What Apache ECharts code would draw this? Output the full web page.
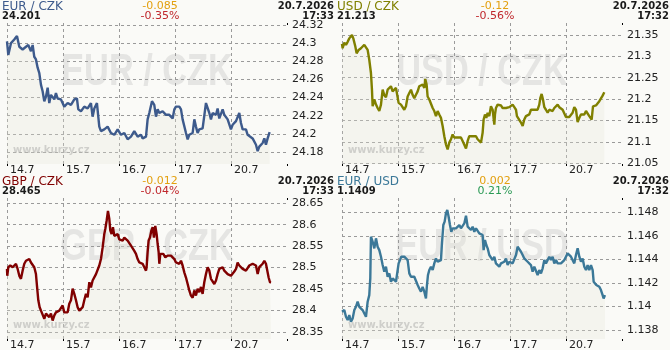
<!DOCTYPE html>
<html>
<head>
<meta charset="utf-8">
<script src="https://cdn.jsdelivr.net/npm/echarts@6/dist/echarts.min.js"></script>
<style>
  html, body { margin: 0; padding: 0; background: #fafaf7; }
  #chart { width: 670px; height: 350px; }
</style>
</head>
<body>
<div id="chart"></div>
<script>
// x = trading day since 14.7 (0 = 14.7, 4 = 20.7), y = rate
const dayLabels = ['14.7', '15.7', '16.7', '17.7', '20.7'];

const pairNames = ['EUR / CZK', 'USD / CZK', 'GBP / CZK', 'EUR / USD'];
const lastValues = ['24.201', '21.213', '28.465', '1.1409'];
const changes = ['-0.085', '-0.12', '-0.012', '0.002'];
const changePct = ['-0.35%', '-0.56%', '-0.04%', '0.21%'];
const dates = ['20.7.2026', '20.7.2026', '20.7.2026', '20.7.2026'];
const times = ['17:33', '17:32', '17:33', '17:32'];

const eurCzk = [
  [0.000, 24.302], [0.023, 24.287], [0.071, 24.300], [0.130, 24.304], [0.178, 24.308],
  [0.220, 24.296], [0.279, 24.293], [0.339, 24.296], [0.380, 24.298], [0.428, 24.291],
  [0.458, 24.298], [0.487, 24.285], [0.517, 24.282], [0.547, 24.273], [0.577, 24.267],
  [0.607, 24.254], [0.636, 24.247], [0.666, 24.236], [0.696, 24.241], [0.726, 24.251],
  [0.755, 24.234], [0.785, 24.243], [0.845, 24.238], [0.874, 24.245], [0.904, 24.239],
  [0.964, 24.238], [1.023, 24.230], [1.083, 24.234], [1.142, 24.232], [1.202, 24.238],
  [1.249, 24.239], [1.273, 24.227], [1.321, 24.225], [1.380, 24.230], [1.440, 24.228],
  [1.499, 24.234], [1.529, 24.219], [1.559, 24.228], [1.606, 24.234], [1.648, 24.208],
  [1.678, 24.203], [1.737, 24.205], [1.797, 24.208], [1.856, 24.201], [1.916, 24.199],
  [1.976, 24.205], [2.035, 24.199], [2.095, 24.201], [2.154, 24.194], [2.214, 24.197],
  [2.273, 24.203], [2.333, 24.197], [2.393, 24.199], [2.422, 24.195], [2.482, 24.197],
  [2.511, 24.216], [2.541, 24.223], [2.589, 24.236], [2.630, 24.232], [2.660, 24.219],
  [2.690, 24.227], [2.720, 24.223], [2.779, 24.225], [2.839, 24.221], [2.898, 24.221],
  [2.958, 24.217], [2.988, 24.227], [3.017, 24.230], [3.077, 24.230], [3.107, 24.227],
  [3.136, 24.216], [3.166, 24.216], [3.196, 24.201], [3.226, 24.194], [3.255, 24.199],
  [3.315, 24.201], [3.345, 24.216], [3.374, 24.208], [3.404, 24.201], [3.434, 24.205],
  [3.493, 24.206], [3.523, 24.208], [3.553, 24.234], [3.583, 24.236], [3.613, 24.223],
  [3.642, 24.216], [3.672, 24.223], [3.732, 24.221], [3.761, 24.228], [3.791, 24.217],
  [3.851, 24.227], [3.880, 24.221], [3.910, 24.223], [3.940, 24.216], [3.970, 24.216],
  [3.999, 24.205], [4.029, 24.210], [4.059, 24.208], [4.089, 24.214], [4.118, 24.216],
  [4.148, 24.223], [4.178, 24.212], [4.208, 24.205], [4.238, 24.203], [4.267, 24.205],
  [4.297, 24.199], [4.327, 24.201], [4.386, 24.195], [4.416, 24.197], [4.446, 24.188],
  [4.476, 24.181], [4.505, 24.186], [4.535, 24.184], [4.565, 24.190], [4.595, 24.195],
  [4.624, 24.188], [4.654, 24.195], [4.690, 24.202]
];

const usdCzk = [
  [0.000, 21.329], [0.011, 21.319], [0.041, 21.332], [0.071, 21.327], [0.101, 21.334],
  [0.130, 21.342], [0.178, 21.350], [0.202, 21.342], [0.238, 21.323], [0.261, 21.307],
  [0.297, 21.315], [0.339, 21.319], [0.368, 21.323], [0.398, 21.327], [0.428, 21.331],
  [0.458, 21.315], [0.487, 21.292], [0.517, 21.261], [0.535, 21.222], [0.547, 21.183],
  [0.577, 21.199], [0.607, 21.187], [0.636, 21.179], [0.666, 21.172], [0.696, 21.187],
  [0.726, 21.222], [0.755, 21.209], [0.785, 21.204], [0.815, 21.222], [0.845, 21.218],
  [0.874, 21.230], [0.904, 21.218], [0.934, 21.222], [0.964, 21.226], [0.993, 21.222],
  [1.011, 21.191], [1.053, 21.187], [1.083, 21.183], [1.112, 21.175], [1.142, 21.183],
  [1.172, 21.206], [1.202, 21.214], [1.232, 21.222], [1.261, 21.210], [1.291, 21.202],
  [1.321, 21.210], [1.351, 21.218], [1.380, 21.230], [1.410, 21.226], [1.440, 21.234],
  [1.470, 21.226], [1.487, 21.247], [1.511, 21.234], [1.529, 21.206], [1.559, 21.199],
  [1.589, 21.202], [1.619, 21.179], [1.648, 21.172], [1.678, 21.160], [1.708, 21.172],
  [1.737, 21.164], [1.767, 21.156], [1.797, 21.137], [1.827, 21.113], [1.856, 21.094],
  [1.886, 21.082], [1.916, 21.098], [1.946, 21.106], [1.976, 21.117], [2.005, 21.110],
  [2.035, 21.106], [2.065, 21.110], [2.095, 21.106], [2.124, 21.110], [2.154, 21.102],
  [2.184, 21.098], [2.214, 21.084], [2.244, 21.102], [2.273, 21.113], [2.303, 21.110],
  [2.333, 21.113], [2.363, 21.110], [2.393, 21.113], [2.422, 21.106], [2.482, 21.098],
  [2.511, 21.121], [2.529, 21.152], [2.553, 21.164], [2.577, 21.156], [2.601, 21.168],
  [2.630, 21.160], [2.660, 21.183], [2.690, 21.175], [2.720, 21.140], [2.732, 21.164],
  [2.749, 21.179], [2.779, 21.187], [2.809, 21.183], [2.839, 21.185], [2.868, 21.179],
  [2.898, 21.175], [2.928, 21.179], [2.958, 21.175], [2.988, 21.181], [3.017, 21.183],
  [3.047, 21.187], [3.077, 21.181], [3.107, 21.175], [3.124, 21.160], [3.154, 21.156],
  [3.196, 21.145], [3.226, 21.137], [3.255, 21.152], [3.285, 21.160], [3.315, 21.156],
  [3.345, 21.164], [3.374, 21.175], [3.404, 21.179], [3.434, 21.175], [3.464, 21.172],
  [3.493, 21.175], [3.523, 21.187], [3.541, 21.202], [3.565, 21.212], [3.589, 21.199],
  [3.613, 21.181], [3.642, 21.175], [3.672, 21.168], [3.702, 21.175], [3.732, 21.179],
  [3.761, 21.172], [3.791, 21.179], [3.821, 21.181], [3.851, 21.187], [3.880, 21.181],
  [3.910, 21.177], [3.940, 21.175], [3.970, 21.173], [3.999, 21.158], [4.029, 21.156],
  [4.059, 21.158], [4.089, 21.160], [4.118, 21.168], [4.148, 21.181], [4.178, 21.175],
  [4.208, 21.146], [4.238, 21.156], [4.267, 21.164], [4.297, 21.168], [4.327, 21.164],
  [4.357, 21.172], [4.386, 21.168], [4.416, 21.160], [4.446, 21.164], [4.458, 21.152],
  [4.482, 21.183], [4.505, 21.179], [4.535, 21.185], [4.565, 21.181], [4.595, 21.195],
  [4.624, 21.199], [4.654, 21.208], [4.684, 21.216]
];

const gbpCzk = [
  [0.000, 28.497], [0.005, 28.481], [0.023, 28.501], [0.059, 28.505], [0.101, 28.501],
  [0.130, 28.497], [0.160, 28.509], [0.190, 28.497], [0.220, 28.481], [0.249, 28.474],
  [0.279, 28.493], [0.309, 28.509], [0.339, 28.516], [0.368, 28.512], [0.398, 28.520],
  [0.428, 28.512], [0.458, 28.516], [0.487, 28.501], [0.517, 28.485], [0.535, 28.458],
  [0.559, 28.424], [0.583, 28.408], [0.607, 28.400], [0.636, 28.396], [0.666, 28.381],
  [0.696, 28.393], [0.726, 28.396], [0.755, 28.385], [0.785, 28.393], [0.815, 28.377],
  [0.845, 28.389], [0.874, 28.396], [0.904, 28.393], [0.934, 28.400], [0.964, 28.404],
  [0.993, 28.412], [1.023, 28.396], [1.053, 28.400], [1.083, 28.396], [1.112, 28.416],
  [1.142, 28.424], [1.172, 28.451], [1.202, 28.439], [1.232, 28.424], [1.261, 28.408],
  [1.291, 28.400], [1.321, 28.404], [1.351, 28.408], [1.380, 28.424], [1.410, 28.439],
  [1.440, 28.431], [1.470, 28.466], [1.499, 28.454], [1.529, 28.470], [1.559, 28.466],
  [1.589, 28.485], [1.619, 28.489], [1.648, 28.505], [1.678, 28.520], [1.708, 28.547],
  [1.737, 28.578], [1.755, 28.590], [1.779, 28.609], [1.803, 28.632], [1.827, 28.613],
  [1.845, 28.586], [1.868, 28.578], [1.892, 28.594], [1.916, 28.574], [1.946, 28.570],
  [1.976, 28.578], [2.005, 28.566], [2.035, 28.570], [2.065, 28.563], [2.095, 28.570],
  [2.124, 28.574], [2.154, 28.563], [2.184, 28.559], [2.214, 28.551], [2.244, 28.547],
  [2.273, 28.539], [2.303, 28.532], [2.333, 28.520], [2.363, 28.512], [2.393, 28.509],
  [2.422, 28.509], [2.452, 28.501], [2.482, 28.493], [2.493, 28.501], [2.511, 28.536],
  [2.529, 28.563], [2.553, 28.570], [2.577, 28.586], [2.601, 28.594], [2.624, 28.570],
  [2.648, 28.597], [2.672, 28.578], [2.690, 28.555], [2.708, 28.536], [2.720, 28.509],
  [2.738, 28.532], [2.767, 28.528], [2.791, 28.532], [2.827, 28.524], [2.868, 28.528],
  [2.898, 28.524], [2.928, 28.528], [2.958, 28.524], [2.988, 28.520], [3.017, 28.512],
  [3.047, 28.516], [3.077, 28.509], [3.107, 28.516], [3.136, 28.505], [3.166, 28.489],
  [3.196, 28.477], [3.226, 28.462], [3.255, 28.447], [3.285, 28.435], [3.315, 28.430],
  [3.345, 28.447], [3.374, 28.435], [3.404, 28.451], [3.434, 28.443], [3.464, 28.455],
  [3.493, 28.439], [3.523, 28.466], [3.553, 28.485], [3.583, 28.501], [3.613, 28.493],
  [3.642, 28.474], [3.672, 28.477], [3.702, 28.462], [3.732, 28.470], [3.761, 28.485],
  [3.791, 28.497], [3.821, 28.501], [3.851, 28.501], [3.880, 28.493], [3.910, 28.491],
  [3.940, 28.485], [3.970, 28.486], [3.999, 28.481], [4.029, 28.485], [4.059, 28.491],
  [4.089, 28.497], [4.118, 28.512], [4.148, 28.505], [4.178, 28.509], [4.208, 28.497],
  [4.238, 28.501], [4.267, 28.493], [4.297, 28.497], [4.327, 28.505], [4.357, 28.501],
  [4.386, 28.509], [4.416, 28.512], [4.446, 28.505], [4.476, 28.485], [4.505, 28.501],
  [4.535, 28.505], [4.565, 28.509], [4.595, 28.516], [4.624, 28.509], [4.654, 28.512],
  [4.672, 28.477], [4.696, 28.466], [4.714, 28.465]
];

const eurUsd = [
  [0.000, 1.13955], [0.011, 1.13940], [0.041, 1.13969], [0.071, 1.13912], [0.101, 1.13884],
  [0.130, 1.13926], [0.160, 1.13869], [0.190, 1.13898], [0.220, 1.13969], [0.249, 1.13997],
  [0.279, 1.14040], [0.309, 1.13997], [0.339, 1.14011], [0.368, 1.13969], [0.398, 1.13969],
  [0.428, 1.13912], [0.458, 1.14040], [0.487, 1.14096], [0.505, 1.14238], [0.517, 1.14593],
  [0.547, 1.14550], [0.577, 1.14494], [0.607, 1.14579], [0.636, 1.14508], [0.666, 1.14479],
  [0.696, 1.14423], [0.726, 1.14352], [0.755, 1.14295], [0.785, 1.14338], [0.815, 1.14252],
  [0.845, 1.14281], [0.874, 1.14210], [0.904, 1.14238], [0.934, 1.14252], [0.964, 1.14210],
  [0.993, 1.14224], [1.011, 1.14366], [1.035, 1.14394], [1.059, 1.14423], [1.083, 1.14437],
  [1.112, 1.14423], [1.142, 1.14437], [1.172, 1.14394], [1.202, 1.14281], [1.232, 1.14252],
  [1.261, 1.14267], [1.291, 1.14252], [1.321, 1.14238], [1.351, 1.14182], [1.380, 1.14153],
  [1.410, 1.14125], [1.440, 1.14167], [1.470, 1.14125], [1.499, 1.14068], [1.517, 1.14182],
  [1.535, 1.14267], [1.559, 1.14309], [1.589, 1.14338], [1.619, 1.14309], [1.648, 1.14366],
  [1.678, 1.14408], [1.708, 1.14380], [1.737, 1.14366], [1.767, 1.14394], [1.785, 1.14536],
  [1.809, 1.14692], [1.833, 1.14721], [1.856, 1.14791], [1.880, 1.14820], [1.904, 1.14763],
  [1.928, 1.14692], [1.952, 1.14635], [1.976, 1.14664], [2.005, 1.14678], [2.035, 1.14664],
  [2.065, 1.14678], [2.095, 1.14692], [2.124, 1.14664], [2.154, 1.14678], [2.184, 1.14706],
  [2.214, 1.14772], [2.244, 1.14678], [2.273, 1.14664], [2.303, 1.14650], [2.333, 1.14678],
  [2.363, 1.14635], [2.393, 1.14664], [2.422, 1.14650], [2.452, 1.14621], [2.482, 1.14621],
  [2.511, 1.14607], [2.529, 1.14479], [2.553, 1.14565], [2.577, 1.14522], [2.601, 1.14494],
  [2.630, 1.14437], [2.660, 1.14451], [2.690, 1.14394], [2.720, 1.14423], [2.749, 1.14366],
  [2.779, 1.14352], [2.809, 1.14338], [2.839, 1.14366], [2.868, 1.14352], [2.898, 1.14380],
  [2.928, 1.14408], [2.958, 1.14352], [2.988, 1.14380], [3.017, 1.14380], [3.047, 1.14366],
  [3.077, 1.14380], [3.107, 1.14437], [3.136, 1.14508], [3.166, 1.14494], [3.196, 1.14465],
  [3.226, 1.14437], [3.255, 1.14408], [3.285, 1.14423], [3.315, 1.14380], [3.345, 1.14394],
  [3.374, 1.14352], [3.404, 1.14295], [3.434, 1.14338], [3.464, 1.14324], [3.493, 1.14267],
  [3.523, 1.14309], [3.553, 1.14281], [3.583, 1.14324], [3.613, 1.14394], [3.642, 1.14366],
  [3.672, 1.14380], [3.702, 1.14423], [3.732, 1.14394], [3.761, 1.14423], [3.791, 1.14366],
  [3.821, 1.14394], [3.851, 1.14366], [3.880, 1.14380], [3.910, 1.14366], [3.940, 1.14366],
  [3.970, 1.14394], [3.999, 1.14408], [4.029, 1.14451], [4.059, 1.14437], [4.089, 1.14423],
  [4.118, 1.14408], [4.148, 1.14366], [4.178, 1.14437], [4.208, 1.14494], [4.238, 1.14423],
  [4.267, 1.14380], [4.297, 1.14408], [4.327, 1.14338], [4.357, 1.14309], [4.386, 1.14352],
  [4.416, 1.14309], [4.446, 1.14352], [4.476, 1.14309], [4.494, 1.14210], [4.517, 1.14224],
  [4.541, 1.14182], [4.565, 1.14182], [4.595, 1.14167], [4.624, 1.14139], [4.654, 1.14096],
  [4.672, 1.14068], [4.696, 1.14096]
];

// one panel per pair: position of the panel, axis range and colours
const panels = [
  { data: eurCzk, ox: 0,   oy: 0,   min: 24.1668, max: 24.3222, step: 0.02,  color: '#3d5a8c' },
  { data: usdCzk, ox: 335, oy: 0,   min: 21.048,  max: 21.378,  step: 0.05,  color: '#808000' },
  { data: gbpCzk, ox: 0,   oy: 175, min: 28.334,  max: 28.662,  step: 0.05,  color: '#800000' },
  { data: eurUsd, ox: 335, oy: 175, min: 1.13723, max: 1.14922, step: 0.002, color: '#3b7898' }
];

const FONT = 'DejaVu Sans';
const gridLine = { color: '#9a9a9a', type: [3, 3], width: 1 };
const trimNum = v => String(parseFloat(v.toFixed(5)));

const grids = panels.map(p => ({
  left: p.ox + 7, top: p.oy + 23, width: 280, height: 141
}));

// bottom axes with labels (0..3), top axes with ticks only (4..7)
const xAxes = panels.map((p, i) => ({
  type: 'value', gridIndex: i, min: 0, max: 5, interval: 1, z: 1,
  axisLine: { show: false },
  axisTick: { show: true, length: 2, lineStyle: { color: '#000' } },
  axisLabel: {
    formatter: v => dayLabels[v] || '',
    align: 'left', padding: [0, 0, 0, 3], margin: 1, verticalAlign: 'top',
    fontSize: 11, fontFamily: FONT, color: '#222'
  },
  splitLine: { show: true, showMaxLine: false, lineStyle: gridLine }
})).concat(panels.map((p, i) => ({
  type: 'value', gridIndex: i, position: 'top', min: 0, max: 5, interval: 1,
  axisLine: { show: false },
  axisTick: { show: true, inside: true, length: 2, lineStyle: { color: '#000' } },
  axisLabel: { show: false },
  splitLine: { show: false }
})));

const yAxes = panels.map((p, i) => ({
  type: 'value', gridIndex: i, position: 'right', z: 1,
  min: p.min, max: p.max, minInterval: p.step, maxInterval: p.step,
  axisLine: { show: false },
  axisTick: { show: false },
  axisLabel: {
    margin: 5, fontSize: 11, fontFamily: FONT, color: '#222',
    formatter: v => {
      const k = v / p.step;
      return Math.abs(k - Math.round(k)) < 1e-6 ? trimNum(v) : '';
    }
  },
  splitLine: { show: true, showMinLine: false, showMaxLine: false, lineStyle: gridLine }
}));

const series = panels.map((p, i) => ({
  type: 'line', xAxisIndex: i, yAxisIndex: i, z: 2,
  data: p.data, showSymbol: false, symbol: 'none', silent: true,
  lineStyle: { width: 2.4, color: p.color },
  itemStyle: { color: p.color },
  areaStyle: { color: 'rgba(230,230,215,0.4)', origin: 'start' }
}));

const txt = (x, y, text, font, fill, align, extra) => Object.assign({
  type: 'text', x, y, silent: true,
  style: { text, font, fill, textAlign: align, textVerticalAlign: 'top' }
}, extra || {});

const graphics = [];
panels.forEach((p, i) => {
  const ox = p.ox, oy = p.oy;
  const up = !changePct[i].startsWith('-');
  // watermarks behind the data
  graphics.push({
    type: 'text', x: ox + 147, y: oy + 73, scaleX: 0.78, z: 0, silent: true,
    style: { text: pairNames[i], font: 'bold 44px "Liberation Sans"', fill: '#e5e5e3',
             textAlign: 'center', textVerticalAlign: 'middle' }
  });
  graphics.push({
    type: 'text', x: ox + 13, y: oy + 150, z: 0, silent: true,
    style: { text: 'www.kurzy.cz', font: 'bold 10px "' + FONT + '"', fill: '#c6c6c6',
             textAlign: 'left', textVerticalAlign: 'middle' }
  });
  // header
  graphics.push(txt(ox + 2, oy + 1, pairNames[i], '12px "' + FONT + '"', p.color, 'left', { z: 5 }));
  graphics.push(txt(ox + 2, oy + 11, lastValues[i], 'bold 10px "' + FONT + '"', '#1a1a1a', 'left', { z: 5 }));
  graphics.push(txt(ox + 160, oy + 1, changes[i], '11px "' + FONT + '"', '#e3a010', 'center', { z: 5 }));
  graphics.push(txt(ox + 160, oy + 11, changePct[i], '11px "' + FONT + '"', up ? '#2a9a55' : '#c0282d', 'center', { z: 5 }));
  graphics.push(txt(ox + 334, oy + 1, dates[i], 'bold 10px "' + FONT + '"', '#1a1a1a', 'right', { z: 5 }));
  graphics.push(txt(ox + 334, oy + 11, times[i], 'bold 10px "' + FONT + '"', '#1a1a1a', 'right', { z: 5 }));
});

const chart = echarts.init(document.getElementById('chart'));
chart.setOption({
  animation: false,
  backgroundColor: '#fafaf7',
  grid: grids.map(g => Object.assign({ outerBoundsMode: 'none' }, g)),
  xAxis: xAxes,
  yAxis: yAxes,
  graphic: { elements: graphics },
  series
});
</script>
</body>
</html>
